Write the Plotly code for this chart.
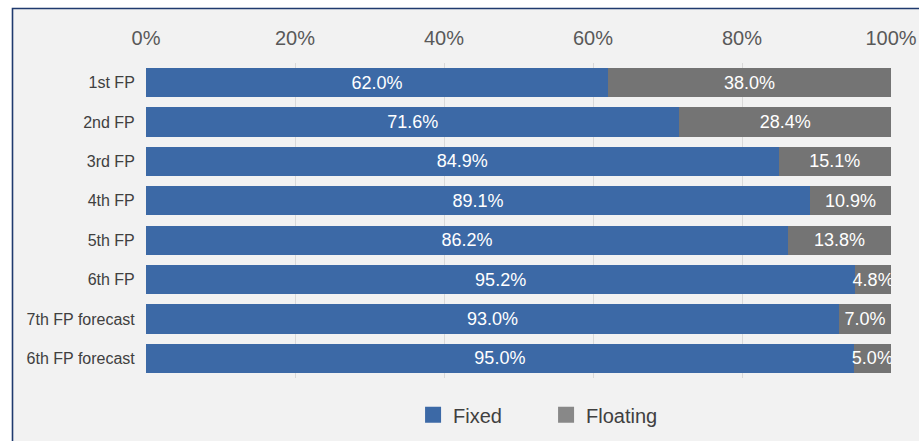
import plotly.graph_objects as go

categories = ["1st FP", "2nd FP", "3rd FP", "4th FP", "5th FP", "6th FP",
              "7th FP forecast", "6th FP forecast"]
fixed = [62.0, 71.6, 84.9, 89.1, 86.2, 95.2, 93.0, 95.0]
floating = [38.0, 28.4, 15.1, 10.9, 13.8, 4.8, 7.0, 5.0]
series_names = ["Fixed", "Floating"]
tick_vals = [0, 20, 40, 60, 80, 100]
tick_text = ["0%", "20%", "40%", "60%", "80%", "100%"]

BLUE = "#3C69A6"
GRAY = "#747474"
GRAY_LEGEND = "#888888"
FONT = "Liberation Sans, Arial, sans-serif"

fig = go.Figure()
for vals, name, color in [(fixed, series_names[0], BLUE), (floating, series_names[1], GRAY)]:
    fig.add_trace(go.Bar(
        y=categories, x=vals, orientation="h", name=name, showlegend=False,
        marker=dict(color=color, line=dict(width=0)),
        text=[f"{v:.1f}%" for v in vals], textposition="inside",
        insidetextanchor="middle", constraintext="none",
        textfont=dict(color="white", size=18, family=FONT),
        hoverinfo="skip",
    ))

# legend entries (square swatches)
for name, color in [(series_names[0], BLUE), (series_names[1], GRAY_LEGEND)]:
    fig.add_trace(go.Scatter(
        x=[None], y=[None], mode="markers", name=name, showlegend=True,
        marker=dict(symbol="square", size=16, color=color, line=dict(width=0)),
        hoverinfo="skip",
    ))

fig.update_layout(
    width=919, height=441,
    barmode="stack", bargap=0.26,
    paper_bgcolor="white", plot_bgcolor="rgba(0,0,0,0)",
    margin=dict(l=146, r=28, t=63, b=63, autoexpand=False),
    font=dict(family=FONT),
    showlegend=True,
    legend=dict(orientation="h", traceorder="normal",
                x=0.537, xanchor="center", y=-0.117, yanchor="middle",
                font=dict(size=20, color="#404040", family=FONT),
                bgcolor="rgba(0,0,0,0)", entrywidth=88, itemwidth=30),
    xaxis=dict(side="top", range=[0, 100], tickvals=tick_vals, ticktext=tick_text,
               showgrid=True, gridcolor="#D9D9D9", gridwidth=1.3, zeroline=False,
               tickfont=dict(size=20, color="#595959", family=FONT),
               ticks="outside", ticklen=9, tickcolor="rgba(0,0,0,0)",
               showline=False, fixedrange=True),
    yaxis=dict(autorange="reversed", tickfont=dict(size=16, color="#404040", family=FONT),
               ticks="outside", ticklen=7, tickcolor="rgba(0,0,0,0)",
               showline=False, showgrid=False, fixedrange=True),
    shapes=[dict(type="rect", xref="paper", yref="paper",
                 x0=(12.5 - 146) / 745, x1=1.3, y0=-0.5, y1=(378 - 8.5) / 315,
                 fillcolor="#F2F2F2", line=dict(color="#1F3A6E", width=1.6),
                 layer="below")],
)

fig.write_html("out.html", config={"displayModeBar": False},
               post_script="document.body.style.margin='0';document.body.style.overflow='hidden';")
